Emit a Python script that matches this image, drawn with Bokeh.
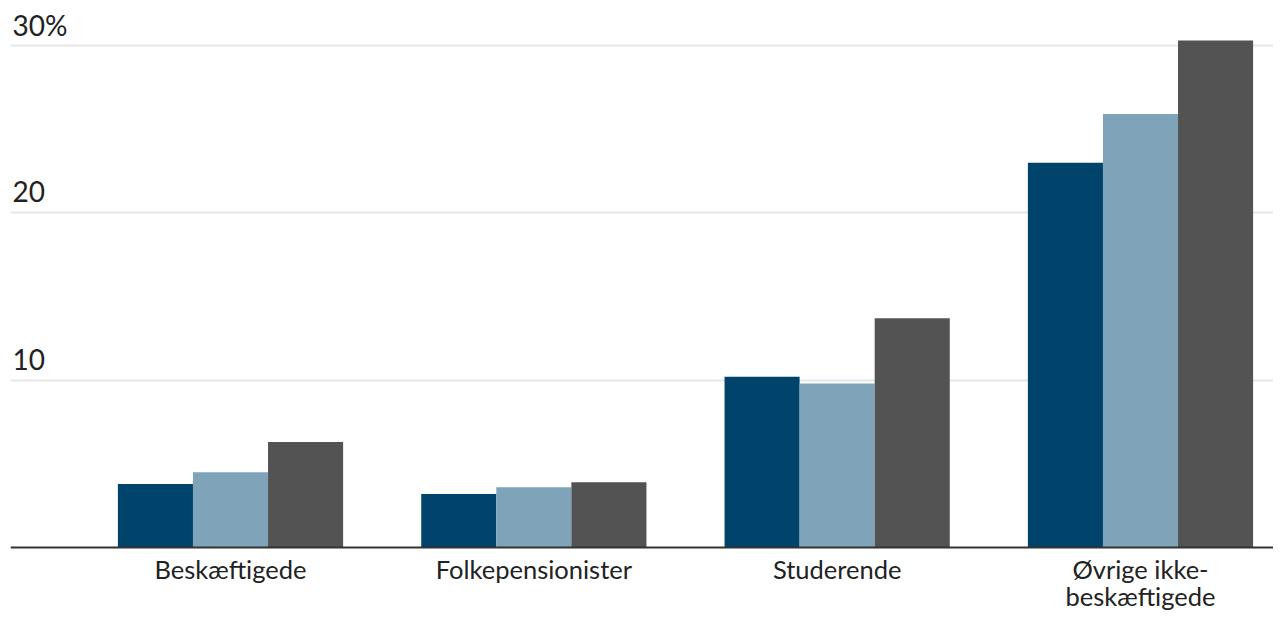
from bokeh.plotting import figure
from bokeh.models import Range1d, FixedTicker, Span
from bokeh.embed import file_html
from bokeh.resources import INLINE
from bokeh.core.properties import value

categories = ["Beskæftigede", "Folkepensionister", "Studerende", "Øvrige ikke-\nbeskæftigede"]
series_a = [3.8, 3.2, 10.2, 23.0]
series_b = [4.5, 3.6, 9.8, 25.9]
series_c = [6.3, 3.9, 13.7, 30.3]
y_ticks = [10, 20, 30]
y_tick_labels = ["10", "20", "30%"]

colors = ["#00446b", "#7fa3b8", "#535353"]
FONT = "Lato"

x_start, x_end = -0.7253, 3.4385
y_start, y_end = -3.765, 32.69
p = figure(width=1273, height=610, output_backend="svg", toolbar_location=None,
           x_range=Range1d(x_start, x_end), y_range=Range1d(y_start, y_end),
           min_border=0, min_border_left=10)

xs = list(range(len(categories)))
bw = 0.2475
for i, (vals, c) in enumerate(zip([series_a, series_b, series_c], colors)):
    p.vbar(x=[x + (i - 1) * bw for x in xs], top=vals, width=bw, bottom=0,
           fill_color=c, line_color=None)

p.xaxis.visible = False
p.yaxis.visible = False
p.xgrid.visible = False
p.ygrid.ticker = FixedTicker(ticks=y_ticks)
p.ygrid.grid_line_color = "#e6e6e6"
p.ygrid.grid_line_width = 2
p.outline_line_color = None

p.add_layout(Span(location=0, dimension="width", line_color="#333333", line_width=2))

p.text(x=xs, y=[0] * len(xs), text=categories,
       y_offset=6, text_baseline="top", text_align="center", text_line_height=0.9,
       text_font=value(FONT), text_font_size="25.5px", text_color="#222222")

p.text(x=[x_start] * len(y_ticks), y=y_ticks, text=y_tick_labels,
       x_offset=2, y_offset=-21, text_baseline="alphabetic", text_align="left",
       text_font=value(FONT), text_font_size="28px", text_color="#222222")

open("out.html", "w").write(file_html(p, INLINE))
